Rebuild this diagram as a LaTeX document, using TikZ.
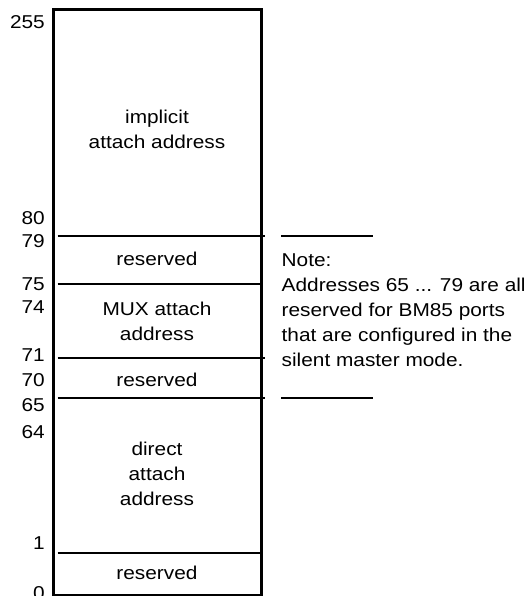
\documentclass[tikz,border=0pt]{standalone}
\usepackage{fontspec}
\setmainfont[FakeStretch=1.12]{Liberation Sans}
\begin{document}
\begin{tikzpicture}[x=1pt,y=-1pt,every node/.style={font=\fontsize{18.6}{25}\selectfont,inner sep=0pt},
  addr/.style={anchor=east},
  field/.style={align=center},
  sep/.style={line width=1.8pt}]
\useasboundingbox (0,0) rectangle (529,596);
\draw[line width=2.3pt] (53.5,9.5) rectangle (261.5,595);
\foreach \y/\x in {236/265,284/262,358/265,398/265,553/262}
  \draw[sep] (57.5,\y)--(\x,\y);
\foreach \n/\y in {255/22,80/218,79/241,75/284,74/307,71/355,70/380,65/405,64/432,1/543,0/593}
  \node[addr] (a\n) at (45,\y) {\n};
\node[field] (implicit) at (157,129) {implicit\\attach address};
\node[field] (resA) at (157,259) {reserved};
\node[field] (mux) at (157,321) {MUX attach\\address};
\node[field] (resB) at (157,380) {reserved};
\node[field] (direct) at (157,474) {direct\\attach\\address};
\node[field] (resC) at (157,573) {reserved};
\draw[sep] (281,236)--(373,236);
\draw[sep] (281,398)--(373,398);
\node[anchor=north west,align=left] (note) at (281.5,253) {Note:\\Addresses 65 ... 79 are all\\reserved for BM85 ports\\that are configured in the\\silent master mode.};
\end{tikzpicture}
\end{document}
